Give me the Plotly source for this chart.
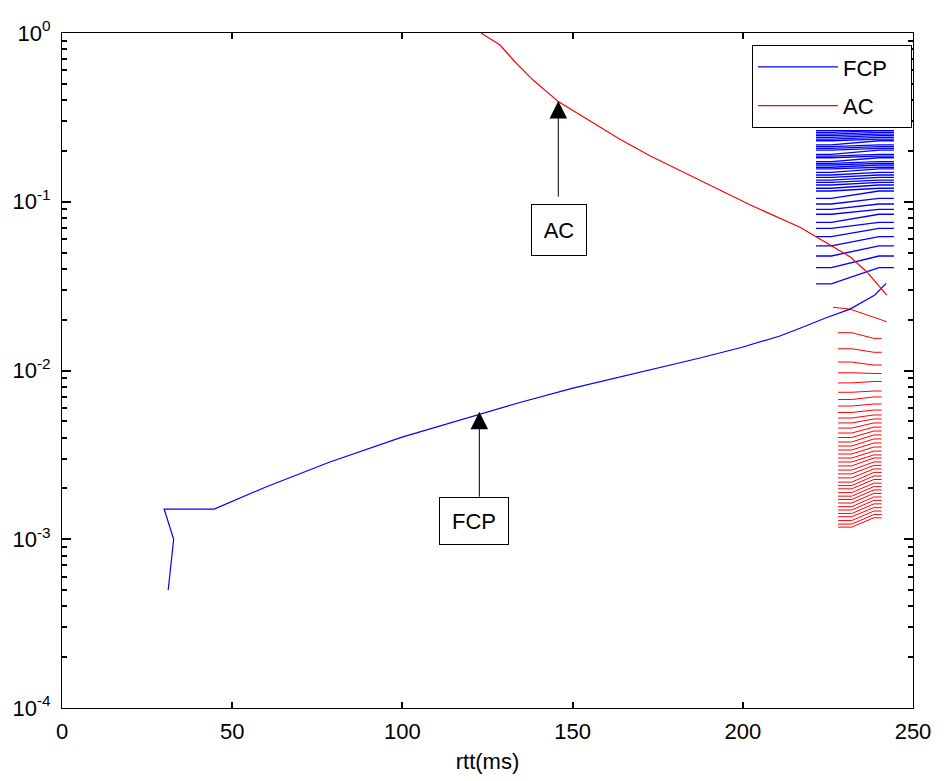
import math
import plotly.graph_objects as go

# ---- data ----
fcp_x = [31.2, 32.8, 30.0, 44.7, 59.9, 78.7, 99.9, 121.9, 134.5, 150.1, 163.9,
         175.1, 187.4, 199.8, 210.9, 216.8, 224.1, 231.5, 238.8, 242.1]
fcp_y = [5.0e-4, 1.0e-3, 1.51e-3, 1.51e-3, 2.04e-3, 2.87e-3, 4.03e-3, 5.45e-3,
         6.46e-3, 7.87e-3, 9.16e-3, 1.035e-2, 1.186e-2, 1.374e-2, 1.60e-2,
         1.78e-2, 2.04e-2, 2.31e-2, 2.80e-2, 3.28e-2]

ac_x = [123.1, 128.7, 133.1, 138.4, 145.8, 152.2, 163.9, 172.7, 187.4, 202.1,
        216.8, 226.6, 231.5, 236.4, 239.3, 242.3]
ac_y = [1.0, 0.849, 0.673, 0.526, 0.392, 0.327, 0.2344, 0.1875, 0.1334, 0.0959,
        0.0706, 0.0542, 0.0472, 0.0385, 0.0329, 0.028]

# blue family of short curves (levels, low -> high)
blue_levels = [0.0326, 0.0407, 0.0477, 0.0547, 0.0621, 0.0696, 0.0755, 0.0843,
               0.0902, 0.0970, 0.1048, 0.1158, 0.1202, 0.1257, 0.1303, 0.1345,
               0.1396, 0.1441, 0.1495, 0.1565, 0.1601, 0.1651, 0.1690, 0.1727,
               0.1823, 0.1866, 0.1910, 0.2025, 0.2073, 0.2120, 0.2170, 0.2299,
               0.2353, 0.2409, 0.2463, 0.2518, 0.2580, 0.2636]
blue_x = [221.5, 226.0, 240.0, 244.4]

# red family of short curves: left level, right level
red_left = [0.01675, 0.01346, 0.01122, 0.00970, 0.00844, 0.00743, 0.00673,
            0.00616, 0.00564, 0.00523, 0.00489, 0.00456, 0.00426, 0.00401,
            0.00377, 0.00357, 0.00338, 0.00320, 0.00303, 0.00287, 0.00272,
            0.00257, 0.00244, 0.00231, 0.00218, 0.00208, 0.00199, 0.00189,
            0.00180, 0.00172, 0.00164, 0.00156, 0.00149, 0.00142, 0.00136,
            0.00129, 0.00123, 0.00118]
red_right = [0.0155, 0.01282, 0.01078, 0.00960, 0.00861, 0.00756, 0.00697,
             0.00633, 0.00583, 0.00545, 0.00516, 0.00489, 0.00462, 0.00438,
             0.00415, 0.00393, 0.00372, 0.00352, 0.00333, 0.00316, 0.00303,
             0.00287, 0.00274, 0.00261, 0.00249, 0.00237, 0.00226, 0.00215,
             0.00205, 0.00196, 0.00187, 0.00178, 0.00170, 0.00162, 0.00154,
             0.00147, 0.00140, 0.00134]
red_x = [228.0, 232.0, 238.5, 240.8]
red_top_x = [226.5, 231.5, 242.3]
red_top_y = [0.0237, 0.0231, 0.01946]

y_ticks = [1e-4, 1e-3, 1e-2, 1e-1, 1e0]
y_ticktext = ["10<sup>-4</sup>", "10<sup>-3</sup>", "10<sup>-2</sup>",
              "10<sup>-1</sup>", "10<sup>0</sup>"]
y_minor = [m * 10 ** e for e in range(-4, 0) for m in range(2, 10)]
x_ticks = [0, 50, 100, 150, 200, 250]

# annotation anchors
arrows = [(122.6, 5.7e-3, 1.75e-3), (145.8, 0.395, 0.105)]
boxes = [("FCP", 121.0, 1.28e-3, 68, 46), ("AC", 145.9, 0.068, 54, 50)]

BLUE = "#0000FF"
RED = "#FF0000"
FONT = "Liberation Sans, Arial, sans-serif"
NB = "\u00a0"

fig = go.Figure()

for i, lv in enumerate(blue_levels):
    nxt = blue_levels[i + 1] if i + 1 < len(blue_levels) else lv
    fig.add_trace(go.Scatter(x=blue_x, y=[lv, lv, nxt, nxt], mode="lines",
                             line=dict(color=BLUE, width=1.3),
                             showlegend=False, hoverinfo="skip"))
for l, r in zip(red_left, red_right):
    fig.add_trace(go.Scatter(x=red_x, y=[l, l, r, r], mode="lines",
                             line=dict(color=RED, width=1),
                             showlegend=False, hoverinfo="skip"))
fig.add_trace(go.Scatter(x=red_top_x, y=red_top_y, mode="lines",
                         line=dict(color=RED, width=1),
                         showlegend=False, hoverinfo="skip"))

fig.add_trace(go.Scatter(x=fcp_x, y=fcp_y, mode="lines", name="FCP" + NB * 3,
                         legendgroup="a", line=dict(color=BLUE, width=1.2)))
fig.add_trace(go.Scatter(x=ac_x, y=ac_y, mode="lines", name="AC",
                         legendgroup="b", line=dict(color=RED, width=1.2)))

# invisible trace on overlay axis carrying the minor ticks
fig.add_trace(go.Scatter(x=[None], y=[None], yaxis="y2", showlegend=False,
                         hoverinfo="skip"))

for ax_, tip, tail in arrows:
    fig.add_annotation(x=ax_, y=math.log10(tip), ax=ax_, ay=math.log10(tail),
                       xref="x", yref="y", axref="x", ayref="y",
                       text="", showarrow=True, arrowhead=2, arrowsize=3.5,
                       arrowwidth=1, arrowcolor="black")

for txt, bx, by, w, h in boxes:
    fig.add_annotation(x=bx, y=math.log10(by), xref="x", yref="y", text=txt,
                       showarrow=False, font=dict(family=FONT, size=22, color="black"),
                       bordercolor="black", borderwidth=1, bgcolor="white",
                       width=w, height=h, borderpad=0)

fig.update_layout(
    width=936, height=773,
    margin=dict(l=54, r=31, t=25, b=73),
    paper_bgcolor="white", plot_bgcolor="white",
    font=dict(family=FONT, size=22, color="black"),
    legend=dict(x=0.8108, y=0.982, xanchor="left", yanchor="top",
                bordercolor="black", borderwidth=1, bgcolor="white",
                font=dict(family=FONT, size=22), itemwidth=80,
                tracegroupgap=7, traceorder="grouped"),
    xaxis=dict(range=[0, 250], tickvals=x_ticks, ticks="inside", ticklen=6,
               tickcolor="black", tickwidth=1.5, ticklabelstandoff=4,
               showline=True, linecolor="black", linewidth=1, mirror="ticks",
               showgrid=False, zeroline=False, automargin=False,
               title=dict(text="rtt(ms)", standoff=10, font=dict(size=22)),
               tickfont=dict(size=22)),
    yaxis=dict(type="log", range=[-4, 0], tickvals=y_ticks, ticktext=y_ticktext,
               ticks="inside", ticklen=9, tickcolor="black", tickwidth=1.5,
               ticklabelstandoff=6,
               showline=True, linecolor="black", automargin=False,
               linewidth=1, mirror="ticks", showgrid=False, zeroline=False,
               tickfont=dict(size=22)),
    yaxis2=dict(type="log", range=[-4, 0], overlaying="y", side="left",
                tickmode="array", tickvals=y_minor, ticktext=[""] * len(y_minor),
                ticks="inside", ticklen=5, tickcolor="black", tickwidth=1.5,
                mirror="ticks", showline=False, showgrid=False, zeroline=False,
                automargin=False, showticklabels=False),
)

fig.write_html("out.html")
